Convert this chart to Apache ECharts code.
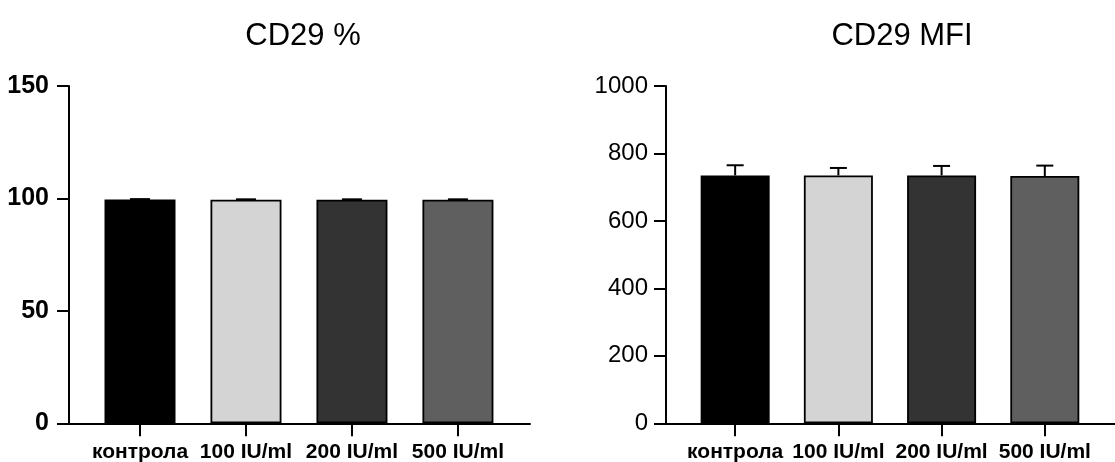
<!DOCTYPE html>
<html>
<head>
<meta charset="utf-8">
<script src="https://cdn.jsdelivr.net/npm/echarts@6/dist/echarts.min.js"></script>
<style>
html,body{margin:0;padding:0;background:#fff;}
#chart{width:1115px;height:462px;}
</style>
</head>
<body>
<div id="chart"></div>
<script>
const categories = ['контрола', '100 IU/ml', '200 IU/ml', '500 IU/ml'];
const barColors = ['#000000', '#d4d4d4', '#333333', '#5f5f5f'];
const pctMean = [99.5, 99.4, 99.4, 99.4];
const pctSD = [0.2, 0.2, 0.2, 0.2];
const mfiMean = [735, 735, 735, 733];
const mfiSD = [30, 22, 28, 31];
const titles = ['CD29 %', 'CD29 MFI'];

const FONT = 'Liberation Sans, Arial, Helvetica, sans-serif';
const catPos = [0, 1, 2, 3];

function barSeries(idx, means, width) {
  return {
    type: 'bar', xAxisIndex: idx, yAxisIndex: idx, barWidth: width,
    data: means.map((v, i) => ({
      value: [catPos[i], v],
      itemStyle: { color: barColors[i], borderColor: '#000', borderWidth: 1.8 }
    })),
    animation: false, silent: true, z: 2
  };
}
function errSeries(idx, means, sds, cap) {
  return {
    type: 'custom', xAxisIndex: idx, yAxisIndex: idx,
    data: means.map((v, i) => [catPos[i], v, v + sds[i]]),
    renderItem: function (params, api) {
      const base = api.coord([api.value(0), api.value(1)]);
      const top = api.coord([api.value(0), api.value(2)]);
      const st = { stroke: '#000', lineWidth: 2 };
      return { type: 'group', children: [
        { type: 'line', shape: { x1: base[0], y1: base[1], x2: top[0], y2: top[1] }, style: st },
        { type: 'line', shape: { x1: top[0] - cap / 2, y1: top[1], x2: top[0] + cap / 2, y2: top[1] }, style: st }
      ]};
    },
    animation: false, silent: true, z: 3
  };
}
function xAxisDef(idx) {
  return {
    type: 'value', gridIndex: idx, min: -0.67, max: 3.68,
    splitLine: { show: false },
    axisLine: { show: true, onZero: false, lineStyle: { color: '#000', width: 2 } },
    axisTick: { show: true, customValues: catPos, length: 13, lineStyle: { color: '#000', width: 2 } },
    axisLabel: {
      customValues: catPos, margin: 18,
      formatter: v => categories[Math.round(v)] || '',
      color: '#000', fontFamily: FONT, fontSize: 21, fontWeight: 'bold'
    }
  };
}
function yAxisDef(idx, max, interval, bold, size, margin) {
  return {
    type: 'value', gridIndex: idx, min: 0, max: max, interval: interval,
    splitLine: { show: false },
    axisLine: { show: true, onZero: false, lineStyle: { color: '#000', width: 2 } },
    axisTick: { show: true, length: 12, lineStyle: { color: '#000', width: 2 } },
    axisLabel: { color: '#000', fontFamily: FONT, fontSize: size, fontWeight: bold ? 'bold' : 'normal',
      margin: margin, formatter: v => String(v) }
  };
}

const chart = echarts.init(document.getElementById('chart'), null, { renderer: 'canvas' });
chart.setOption({
  backgroundColor: '#fff',
  animation: false,
  title: [
    { text: titles[0], left: 298, top: 16, textAlign: 'center',
      textStyle: { fontFamily: FONT, fontSize: 31, fontWeight: 'normal', color: '#000' } },
    { text: titles[1], left: 897, top: 16, textAlign: 'center',
      textStyle: { fontFamily: FONT, fontSize: 31, fontWeight: 'normal', color: '#000' } }
  ],
  grid: [
    { left: 69, right: 585, top: 86, bottom: 38.7, containLabel: false, outerBoundsMode: 'none' },
    { left: 666, right: 0, top: 86, bottom: 38.7, containLabel: false, outerBoundsMode: 'none' }
  ],
  xAxis: [xAxisDef(0), xAxisDef(1)],
  yAxis: [yAxisDef(0, 150, 50, true, 25, 20), yAxisDef(1, 1000, 200, false, 24, 18)],
  series: [
    barSeries(0, pctMean, 71),
    errSeries(0, pctMean, pctSD, 20),
    barSeries(1, mfiMean, 69),
    errSeries(1, mfiMean, mfiSD, 17)
  ]
});
</script>
</body>
</html>
